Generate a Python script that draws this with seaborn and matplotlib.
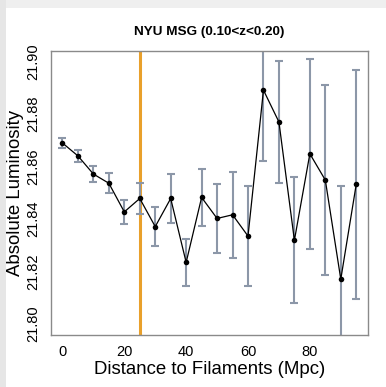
import numpy as np
import pandas as pd
import matplotlib
matplotlib.use("Agg")
import matplotlib.pyplot as plt
import seaborn as sns

# Mean absolute luminosity vs. distance to the nearest filament
distance = [0, 5, 10, 15, 20, 25, 30, 35, 40, 45, 50, 55, 60, 65, 70, 75, 80, 85, 90, 95]
luminosity = [21.8689, 21.8640, 21.8571, 21.8536, 21.8427, 21.8478, 21.8371, 21.8478,
              21.8235, 21.8482, 21.8402, 21.8416, 21.8335, 21.8890, 21.8769, 21.8319,
              21.8648, 21.8548, 21.8171, 21.8532]
lum_err = [0.0019, 0.0023, 0.0030, 0.0039, 0.0046, 0.0060, 0.0073, 0.0092,
           0.0089, 0.0110, 0.0132, 0.0163, 0.0190, 0.0269, 0.0231, 0.0240,
           0.0362, 0.0360, 0.0354, 0.0436]
filament_scale = 25
y_ticks = [21.80, 21.82, 21.84, 21.86, 21.88, 21.90]
x_ticks = [0, 20, 40, 60, 80]

df = pd.DataFrame({"distance": distance, "luminosity": luminosity, "err": lum_err})

sns.set_style("white")
plt.rcParams["font.family"] = ["Liberation Sans", "DejaVu Sans"]
plt.rcParams["text.color"] = "black"
plt.rcParams["axes.labelcolor"] = "black"
plt.rcParams["xtick.color"] = "black"
plt.rcParams["ytick.color"] = "black"

fig = plt.figure(figsize=(3.86, 3.87), dpi=100)
fig.patch.set_facecolor("white")
# light grey page margin on the top and left
fig.patches.append(plt.Rectangle((0, 1 - 8 / 387), 1, 8 / 387, transform=fig.transFigure,
                                 facecolor="#efefef", edgecolor="none", zorder=0))
fig.patches.append(plt.Rectangle((0, 0), 6 / 386, 1, transform=fig.transFigure,
                                 facecolor="#e6e6e6", edgecolor="none", zorder=0))

ax = fig.add_axes([50.7 / 386, 1 - 334.7 / 387, (368 - 50.7) / 386, (334.7 - 50.7) / 387])

ax.axvline(filament_scale, color="#E9A02B", lw=2.2, zorder=1)
ax.errorbar(df["distance"], df["luminosity"], yerr=df["err"], fmt="none",
            ecolor="#8c97a8", elinewidth=1.5, capsize=3.2, capthick=1.5, zorder=2)
sns.lineplot(data=df, x="distance", y="luminosity", ax=ax, color="black", lw=0.9,
             marker="o", markersize=4, markeredgewidth=0, zorder=3)

ax.set_xlim(-3.8, 98.8)
ax.set_ylim(21.796, 21.904)
ax.set_xticks(x_ticks)
ax.set_yticks(y_ticks)
ax.set_yticklabels([f"{v:.2f}" for v in y_ticks], rotation=90, va="center")
ax.tick_params(axis="both", direction="out", length=4.5, width=0.9, colors="black",
               labelsize=10.5, pad=3)
ax.tick_params(axis="both", color="#777777")
for s in ax.spines.values():
    s.set_color("#8a8a8a")
    s.set_linewidth(1.0)

ax.set_xlabel("Distance to Filaments (Mpc)", fontsize=13.4, labelpad=1)
ax.set_ylabel("Absolute Luminosity", fontsize=13.4, labelpad=2)
ax.set_title("NYU MSG (0.10<z<0.20)", fontsize=9.7, fontweight="bold", pad=11, color="black")

fig.savefig("out.png", dpi=100)
